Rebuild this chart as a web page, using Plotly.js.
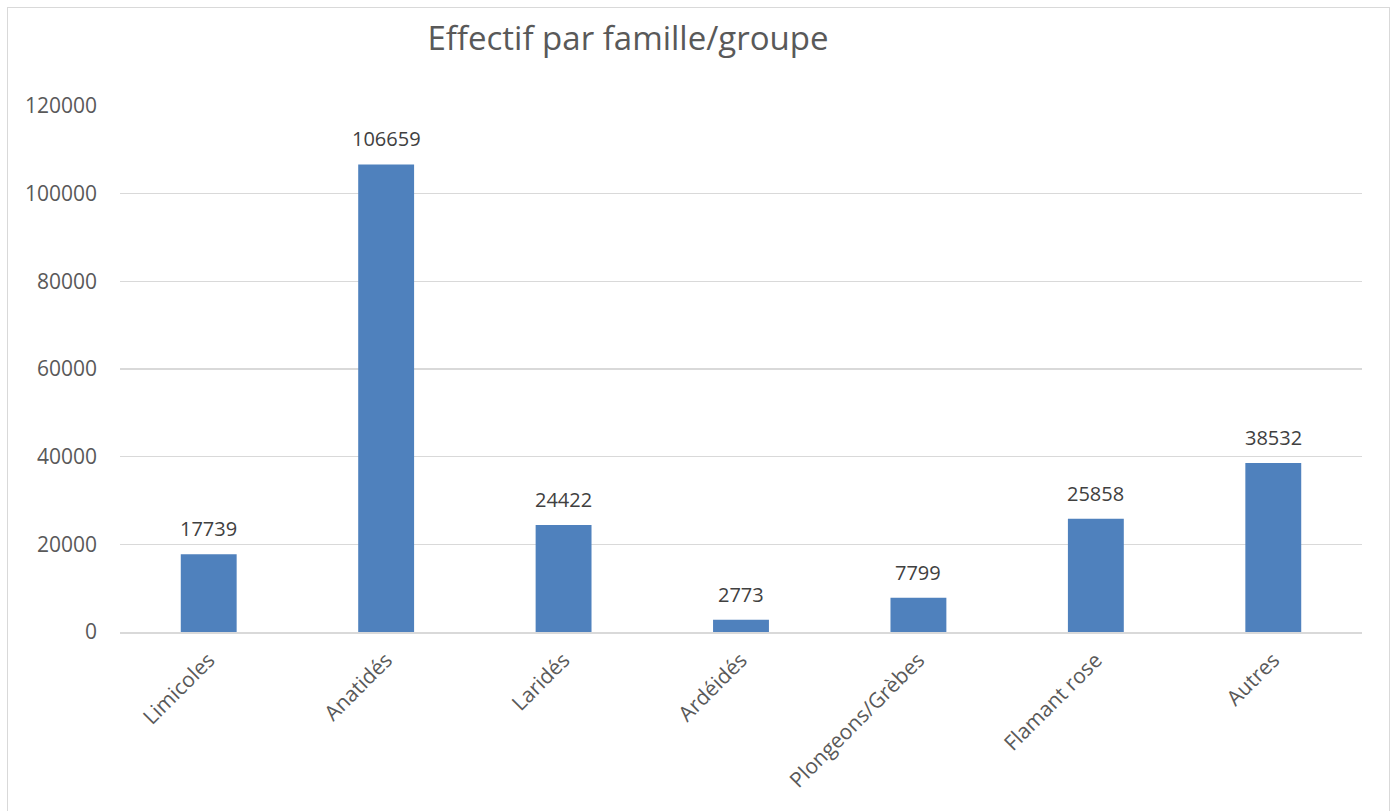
<!DOCTYPE html>
<html>
<head>
<meta charset="utf-8">
<script src="https://cdn.plot.ly/plotly-3.0.1.min.js"></script>
<style>
  html, body { margin: 0; padding: 0; background: #ffffff; overflow: hidden; }
  #wrap { position: relative; width: 1397px; height: 811px; }
  #chart { position: absolute; left: 0; top: 0; width: 1397px; height: 811px; }
  #frame { position: absolute; left: 7px; top: 7px; width: 1383px; height: 830px;
           border: 1px solid #d9d9d9; pointer-events: none; box-sizing: border-box; }
</style>
</head>
<body>
<div id="wrap">
  <div id="chart"></div>
  <div id="frame"></div>
</div>
<script>
const categories = ["Limicoles", "Anatidés", "Laridés", "Ardéidés", "Plongeons/Grèbes", "Flamant rose", "Autres"];
const effectifs = [17739, 106659, 24422, 2773, 7799, 25858, 38532];
const yTickValues = [0, 20000, 40000, 60000, 80000, 100000, 120000];
const yTickLabels = ["0", "20000", "40000", "60000", "80000", "100000", "120000"];
const chartTitle = "Effectif par famille/groupe";

const fontFamily = "'Open Sans', 'Liberation Sans', sans-serif";

const trace = {
  type: "bar",
  x: categories,
  y: effectifs,
  marker: { color: "#4f81bd", line: { width: 0 } },
  hoverinfo: "x+y"
};

const labels = categories.map((c, i) => ({
  x: c,
  y: effectifs[i],
  xref: "x",
  yref: "y",
  text: String(effectifs[i]),
  showarrow: false,
  yanchor: "bottom",
  xanchor: "center",
  yshift: 10,
  font: { family: fontFamily, size: 20, color: "#404040" }
}));

const layout = {
  width: 1397,
  height: 811,
  margin: { l: 120, r: 35, t: 106, b: 179 },
  paper_bgcolor: "#ffffff",
  plot_bgcolor: "#ffffff",
  showlegend: false,
  bargap: 0.685,
  font: { family: fontFamily, color: "#595959", size: 21 },
  annotations: labels,
  title: {
    text: chartTitle,
    font: { family: fontFamily, size: 33, color: "#595959" },
    x: 628 / 1397,
    xanchor: "center",
    xref: "container",
    y: 1 - 38 / 811,
    yanchor: "middle",
    yref: "container"
  },
  xaxis: {
    type: "category",
    tickangle: -45,
    showgrid: false,
    showline: true,
    linecolor: "#d9d9d9",
    linewidth: 1.5,
    ticks: "",
    tickfont: { family: fontFamily, size: 21, color: "#595959" },
    ticklabelstandoff: 6,
    zeroline: false
  },
  yaxis: {
    range: [0, 120000],
    tickvals: yTickValues,
    ticktext: yTickLabels,
    showgrid: true,
    gridcolor: "#d9d9d9",
    gridwidth: 1.5,
    zeroline: false,
    showline: false,
    ticks: "",
    ticklabelstandoff: 22,
    tickfont: { family: fontFamily, size: 21, color: "#595959" }
  }
};

Plotly.newPlot("chart", [trace], layout, { displayModeBar: false, staticPlot: true });
</script>
</body>
</html>
